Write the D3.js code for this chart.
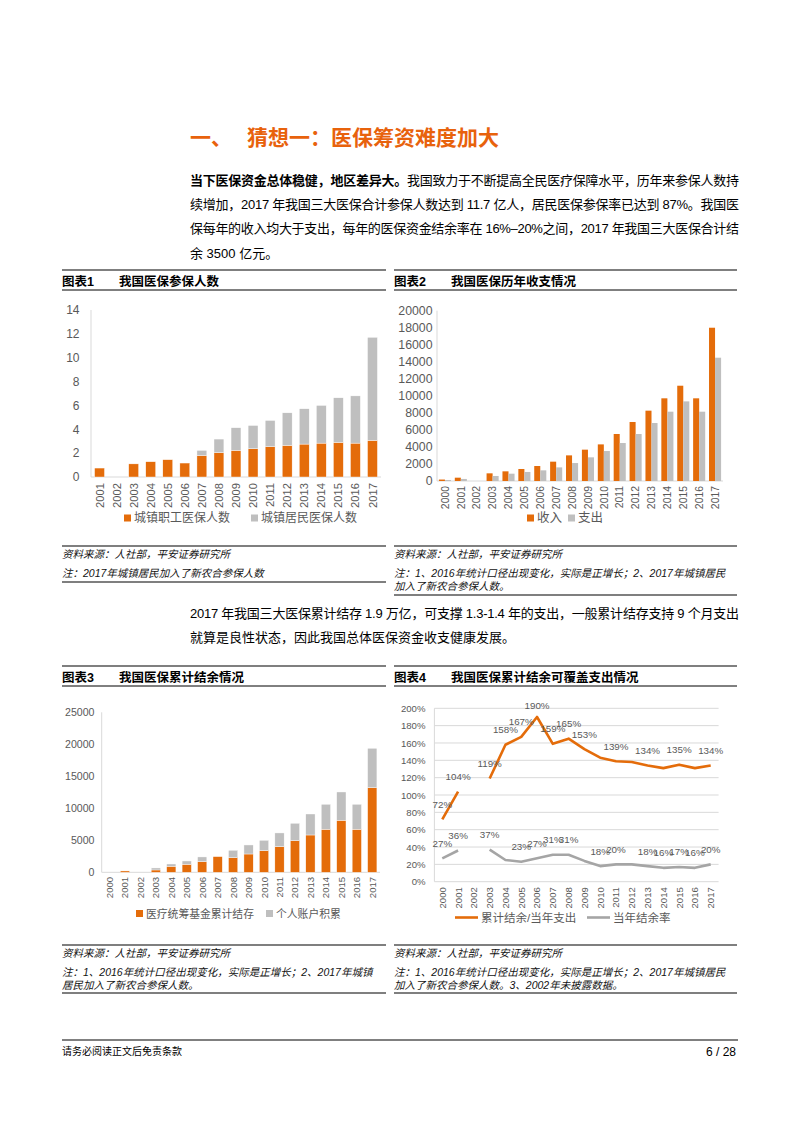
<!DOCTYPE html>
<html>
<head>
<meta charset="utf-8">
<script src="https://cdn.jsdelivr.net/npm/d3@7.9.0/dist/d3.min.js"></script>
<style>
  html, body { margin: 0; padding: 0; background: #fff; }
  svg { display: block; }
  text { font-family: "Liberation Sans", Arial, "Noto Sans CJK SC", sans-serif; }
</style>
</head>
<body>
<svg id="page" width="793" height="1122"></svg>
<script>
// ---- data: chart 1, insured persons (亿人)
const years1 = ['2001','2002','2003','2004','2005','2006','2007','2008','2009','2010','2011','2012','2013','2014','2015','2016','2017'];
const workers = [0.75, 0, 1.1, 1.28, 1.45, 1.17, 1.8, 2.04, 2.23, 2.37, 2.55, 2.65, 2.76, 2.84, 2.9, 2.84, 3.07];
const residents = [0, 0, 0, 0, 0, 0, 0.43, 1.14, 1.9, 1.95, 2.19, 2.73, 2.96, 3.16, 3.74, 3.96, 8.64];
const yTicks1 = [0, 2, 4, 6, 8, 10, 12, 14];

// ---- data: chart 2, income / expense (亿元)
const years = ['2000','2001','2002','2003','2004','2005','2006','2007','2008','2009','2010','2011','2012','2013','2014','2015','2016','2017'];
const income = [170, 390, 0, 900, 1135, 1410, 1760, 2270, 3010, 3680, 4300, 5520, 6930, 8260, 9710, 11190, 9710, 18000];
const expense = [120, 240, 0, 590, 860, 1060, 1250, 1600, 2110, 2780, 3520, 4460, 5520, 6810, 8140, 9350, 8140, 14480];
const yTicks2 = [0, 2000, 4000, 6000, 8000, 10000, 12000, 14000, 16000, 18000, 20000];

// ---- data: chart 3, accumulated balance (亿元)
const pooled = [0, 210, 0, 365, 940, 1250, 1670, 2450, 2290, 2860, 3390, 4010, 4950, 5830, 6720, 8130, 6720, 13230];
const personal = [0, 0, 0, 315, 360, 520, 730, 0, 1150, 1410, 1610, 2140, 2710, 3280, 3910, 4420, 3910, 6150];
const yTicks3 = [0, 5000, 10000, 15000, 20000, 25000];

// ---- data: chart 4, coverage ratios (2002 not disclosed)
const coverRatio = [0.72, 1.04, null, 1.19, 1.58, 1.67, 1.90, 1.59, 1.65, 1.53, 1.43, 1.39, 1.38, 1.34, 1.31, 1.35, 1.31, 1.34];
const surplusRate = [0.27, 0.36, null, 0.37, 0.25, 0.23, 0.27, 0.31, 0.31, 0.24, 0.18, 0.20, 0.20, 0.18, 0.16, 0.17, 0.16, 0.20];
const coverLabelled = ['2000','2001','2003','2004','2005','2006','2007','2008','2009','2011','2013','2015','2017'];
const rateLabelled = ['2000','2001','2003','2005','2006','2007','2008','2010','2011','2013','2014','2015','2016','2017'];
const yTicks4 = [0, 0.2, 0.4, 0.6, 0.8, 1.0, 1.2, 1.4, 1.6, 1.8, 2.0];

const ORANGE = '#E46C0A';
const GREY = '#BFBFBF';
const GREY_LINE = '#A5A5A5';
const TICK = '#595959';
const AXIS = '#D9D9D9';
const LATIN = '"Liberation Sans", Arial, sans-serif';

const svg = d3.select('#page');

// ---------- page text ----------
svg.append('text').attr('x', 190).attr('y', 145).attr('font-size', 21).attr('font-weight', 'bold')
  .attr('fill', '#E8620C').text('一、');
svg.append('text').attr('x', 247).attr('y', 145).attr('font-size', 21).attr('font-weight', 'bold')
  .attr('fill', '#E8620C').text('猜想一：医保筹资难度加大');

function para(lines, y0, step) {
  lines.forEach((ln, i) => {
    const t = svg.append('text').attr('x', 190).attr('y', y0 + i * step).attr('font-size', 13).attr('fill', '#000');
    if (ln.justify) t.attr('textLength', 549).attr('lengthAdjust', 'spacing');
    ln.parts.forEach(p => t.append('tspan').attr('font-weight', p.bold ? 'bold' : null).text(p.t));
  });
}

para([
  { justify: true, parts: [{ t: '当下医保资金总体稳健，地区差异大。', bold: true }, { t: '我国致力于不断提高全民医疗保障水平，历年来参保人数持' }] },
  { justify: true, parts: [{ t: '续增加，2017 年我国三大医保合计参保人数达到 11.7 亿人，居民医保参保率已达到 87%。我国医' }] },
  { justify: true, parts: [{ t: '保每年的收入均大于支出，每年的医保资金结余率在 16%–20%之间，2017 年我国三大医保合计结' }] },
  { justify: false, parts: [{ t: '余 3500 亿元。' }] }
], 184.5, 24.4);

para([
  { justify: true, parts: [{ t: '2017 年我国三大医保累计结存 1.9 万亿，可支撑 1.3-1.4 年的支出，一般累计结存支持 9 个月支出' }] },
  { justify: false, parts: [{ t: '就算是良性状态，因此我国总体医保资金收支健康发展。' }] }
], 617.5, 24);

function rule(x0, x1, y, w) {
  svg.append('line').attr('x1', x0).attr('x2', x1).attr('y1', y).attr('y2', y)
    .attr('stroke', '#000').attr('stroke-width', w || 1.2);
}

function header(x0, x1, y, num, title) {
  rule(x0, x1, y);
  rule(x0, x1, y + 20, 1);
  svg.append('text').attr('x', x0).attr('y', y + 15.5).attr('font-size', 12.5).attr('font-weight', 'bold').text(num);
  svg.append('text').attr('x', x0 + 57).attr('y', y + 15.5).attr('font-size', 12.5).attr('font-weight', 'bold').text(title);
}

function notes(x0, x1, y, lines, bottom) {
  rule(x0, x1, y);
  svg.append('text').attr('x', x0).attr('y', y + 11.5).attr('font-size', 10.5).attr('font-style', 'italic')
    .attr('fill', '#111').text('资料来源：人社部，平安证券研究所');
  lines.forEach((ln, i) => {
    svg.append('text').attr('x', x0).attr('y', y + 31 + i * 12.5).attr('font-size', 10.5).attr('font-style', 'italic')
      .attr('fill', '#111').text(ln);
  });
  rule(x0, x1, bottom);
}

header(62, 386, 270, '图表1', '我国医保参保人数');
header(394, 737, 270, '图表2', '我国医保历年收支情况');
header(62, 386, 666, '图表3', '我国医保累计结余情况');
header(394, 737, 666, '图表4', '我国医保累计结余可覆盖支出情况');

notes(62, 386, 546, ['注：2017年城镇居民加入了新农合参保人数'], 582);
notes(394, 737, 546, ['注：1、2016年统计口径出现变化，实际是正增长；2、2017年城镇居民', '加入了新农合参保人数。'], 595);
notes(62, 386, 945, ['注：1、2016年统计口径出现变化，实际是正增长；2、2017年城镇', '居民加入了新农合参保人数。'], 993);
notes(394, 737, 945, ['注：1、2016年统计口径出现变化，实际是正增长；2、2017年城镇居民', '加入了新农合参保人数。3、2002年未披露数据。'], 993);

rule(62, 738, 1040, 1);
svg.append('text').attr('x', 62).attr('y', 1055).attr('font-size', 10).text('请务必阅读正文后免责条款');
svg.append('text').attr('x', 736).attr('y', 1055.5).attr('font-size', 12).attr('text-anchor', 'end').text('6 / 28');

// ---------- shared axis helpers ----------
function yAxis(g, y, ticks, xPos, size, fmt) {
  const ax = g.append('g').attr('transform', `translate(${xPos},0)`)
    .call(d3.axisLeft(y).tickValues(ticks).tickSize(0).tickPadding(0).tickFormat(fmt || d3.format('d')));
  ax.select('.domain').remove();
  ax.selectAll('text').attr('fill', TICK).attr('font-size', size).attr('font-family', LATIN);
}

function xAxis(g, x, yPos, gap, size) {
  const ax = g.append('g').attr('transform', `translate(0,${yPos})`)
    .call(d3.axisBottom(x).tickSize(0));
  ax.select('.domain').remove();
  ax.selectAll('text')
    .attr('transform', 'rotate(-90)')
    .attr('text-anchor', 'end')
    .attr('x', -gap).attr('y', 0).attr('dy', '0.36em')
    .attr('fill', TICK).attr('font-size', size).attr('font-family', LATIN);
}

function frameLines(g, x0, x1, yTop, yBot) {
  g.append('line').attr('x1', x0).attr('x2', x0).attr('y1', yTop).attr('y2', yBot).attr('stroke', AXIS);
  g.append('line').attr('x1', x0).attr('x2', x1).attr('y1', yBot).attr('y2', yBot).attr('stroke', AXIS);
}

function legendBox(g, x, y, color, label, size) {
  g.append('rect').attr('x', x).attr('y', y - 3.5).attr('width', 7).attr('height', 7).attr('fill', color);
  g.append('text').attr('x', x + 10).attr('y', y + 4.3).attr('font-size', size || 12).attr('fill', TICK).text(label);
}

// ---------- chart 1: stacked bars ----------
{
  const g = svg.append('g');
  const x = d3.scaleBand().domain(years1).range([91, 381]).paddingInner(0.42).paddingOuter(0.21);
  const y = d3.scaleLinear().domain([0, 14]).range([477, 310]);
  frameLines(g, 91, 381, 310, 477);
  yAxis(g, y, yTicks1, 79.5, 12);
  const rows = years1.map((yr, i) => ({ yr, a: workers[i], b: residents[i] }));
  g.selectAll('.w').data(rows).join('rect')
    .attr('x', d => x(d.yr)).attr('width', x.bandwidth())
    .attr('y', d => y(d.a)).attr('height', d => y(0) - y(d.a))
    .attr('fill', ORANGE).attr('stroke', '#fff').attr('stroke-width', 0.4);
  g.selectAll('.r').data(rows.filter(d => d.b > 0)).join('rect')
    .attr('x', d => x(d.yr)).attr('width', x.bandwidth())
    .attr('y', d => y(d.a + d.b)).attr('height', d => y(d.a) - y(d.a + d.b))
    .attr('fill', GREY).attr('stroke', '#fff').attr('stroke-width', 0.4);
  xAxis(g, x, 477, 6, 11.2);
  legendBox(g, 124, 518, ORANGE, '城镇职工医保人数');
  legendBox(g, 251, 518, GREY, '城镇居民医保人数');
}

// ---------- chart 2: grouped bars ----------
{
  const g = svg.append('g');
  const x = d3.scaleBand().domain(years).range([437, 723]).paddingInner(0.24).paddingOuter(0.12);
  const x1 = d3.scaleBand().domain(['income', 'expense']).range([0, x.bandwidth()]);
  const y = d3.scaleLinear().domain([0, 20000]).range([481, 310.7]);
  frameLines(g, 437, 723, 310.7, 481);
  yAxis(g, y, yTicks2, 432.5, 12.3);
  const rows = years.map((yr, i) => ({ yr, income: income[i], expense: expense[i] }));
  ['income', 'expense'].forEach(k => {
    g.selectAll('.' + k).data(rows).join('rect')
      .attr('x', d => x(d.yr) + x1(k)).attr('width', x1.bandwidth())
      .attr('y', d => y(d[k])).attr('height', d => y(0) - y(d[k]))
      .attr('fill', k === 'income' ? ORANGE : GREY);
  });
  xAxis(g, x, 481, 5, 10.4);
  legendBox(g, 527, 518, ORANGE, '收入', 12.5);
  legendBox(g, 568, 518, GREY, '支出', 12.5);
}

// ---------- chart 3: stacked bars ----------
{
  const g = svg.append('g');
  const x = d3.scaleBand().domain(years).range([101.7, 380]).paddingInner(0.4).paddingOuter(0.2);
  const y = d3.scaleLinear().domain([0, 25000]).range([872.3, 712.3]);
  frameLines(g, 101.7, 380, 712.3, 872.3);
  yAxis(g, y, yTicks3, 94.5, 10.6);
  const rows = years.map((yr, i) => ({ yr, a: pooled[i], b: personal[i] }));
  g.selectAll('.p').data(rows.filter(d => d.a > 0)).join('rect')
    .attr('x', d => x(d.yr)).attr('width', x.bandwidth())
    .attr('y', d => y(d.a)).attr('height', d => y(0) - y(d.a))
    .attr('fill', ORANGE).attr('stroke', '#fff').attr('stroke-width', 0.4);
  g.selectAll('.q').data(rows.filter(d => d.b > 0)).join('rect')
    .attr('x', d => x(d.yr)).attr('width', x.bandwidth())
    .attr('y', d => y(d.a + d.b)).attr('height', d => y(d.a) - y(d.a + d.b))
    .attr('fill', GREY).attr('stroke', '#fff').attr('stroke-width', 0.4);
  xAxis(g, x, 872.3, 4.5, 9.6);
  legendBox(g, 136, 913.5, ORANGE, '医疗统筹基金累计结存', 10.8);
  legendBox(g, 266, 913.5, GREY, '个人账户积累', 10.8);
}

// ---------- chart 4: lines ----------
{
  const g = svg.append('g');
  const x = d3.scaleBand().domain(years).range([434.4, 718.6]);
  const cx = d => x(d) + x.bandwidth() / 2;
  const y = d3.scaleLinear().domain([0, 2]).range([881.7, 708.3]);
  g.selectAll('.grid').data(yTicks4).join('line')
    .attr('x1', 434.4).attr('x2', 718.6).attr('y1', d => y(d)).attr('y2', d => y(d))
    .attr('stroke', AXIS).attr('stroke-width', 1);
  g.append('line').attr('x1', 434.4).attr('x2', 434.4).attr('y1', 708.3).attr('y2', 881.7).attr('stroke', AXIS);
  yAxis(g, y, yTicks4, 425.5, 9.6, d3.format('.0%'));

  const series = [
    { vals: coverRatio, color: ORANGE, show: coverLabelled },
    { vals: surplusRate, color: GREY_LINE, show: rateLabelled }
  ];
  series.forEach(s => {
    const pts = years.map((yr, i) => ({ yr, v: s.vals[i] }));
    const line = d3.line().defined(d => d.v !== null).x(d => cx(d.yr)).y(d => y(d.v));
    g.append('path').datum(pts).attr('d', line).attr('fill', 'none')
      .attr('stroke', s.color).attr('stroke-width', 2.6).attr('stroke-linejoin', 'round');
    g.selectAll(null).data(pts.filter(d => d.v !== null && s.show.includes(d.yr))).join('text')
      .attr('x', d => cx(d.yr)).attr('y', d => Math.max(y(d.v) - 11.5, 708.5))
      .attr('text-anchor', 'middle').attr('font-size', 9.8).attr('fill', TICK).attr('font-family', LATIN)
      .text(d => d3.format('.0%')(d.v));
  });
  xAxis(g, x, 881.7, 5.5, 9.6);

  g.append('line').attr('x1', 455).attr('x2', 478).attr('y1', 917.5).attr('y2', 917.5)
    .attr('stroke', ORANGE).attr('stroke-width', 2.6);
  g.append('text').attr('x', 481).attr('y', 921.6).attr('font-size', 11.5).attr('fill', TICK).text('累计结余/当年支出');
  g.append('line').attr('x1', 587).attr('x2', 610).attr('y1', 917.5).attr('y2', 917.5)
    .attr('stroke', GREY_LINE).attr('stroke-width', 2.6);
  g.append('text').attr('x', 613).attr('y', 921.6).attr('font-size', 11.5).attr('fill', TICK).text('当年结余率');
}
</script>
</body>
</html>
